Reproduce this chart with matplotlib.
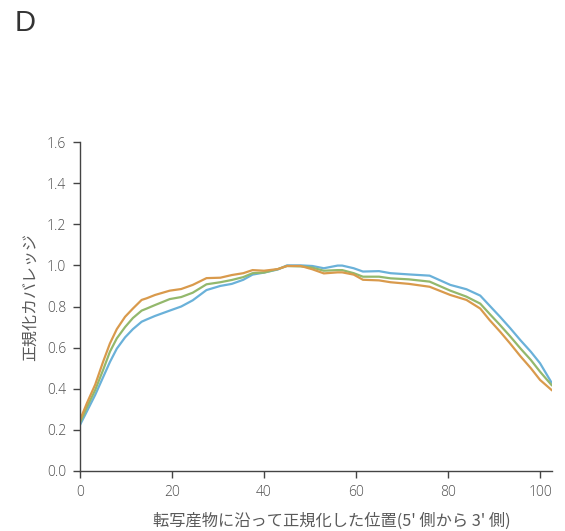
import matplotlib
matplotlib.use("Agg")
import matplotlib.pyplot as plt

plt.rcParams['font.family'] = ['Noto Sans CJK JP', 'DejaVu Sans']

x = [0, 1.5, 3.3, 5, 6.5, 8, 9.8, 11.5, 13.4, 14.5, 16.3, 19.5, 22, 24.5, 27.5,
     30.5, 33, 35.5, 37.5, 40, 43, 45, 48, 50.5, 53, 56, 57, 59.5, 61.5, 65, 67.5,
     71.5, 76, 80.5, 84, 87, 89, 91.3, 93.5, 95.7, 98, 100, 102.5]
blue = [0.224, 0.29, 0.37, 0.455, 0.53, 0.595, 0.65, 0.69, 0.726, 0.737, 0.754, 0.78,
        0.80, 0.83, 0.88, 0.90, 0.91, 0.93, 0.955, 0.965, 0.98, 1.0, 1.0, 0.997,
        0.986, 0.999, 0.999, 0.986, 0.97, 0.972, 0.962, 0.956, 0.95, 0.905, 0.884,
        0.853, 0.805, 0.75, 0.695, 0.637, 0.58, 0.524, 0.43]
green = [0.235, 0.31, 0.394, 0.49, 0.58, 0.645, 0.70, 0.744, 0.78, 0.79, 0.807, 0.836,
         0.846, 0.867, 0.908, 0.918, 0.929, 0.943, 0.962, 0.965, 0.982, 0.997, 0.995,
         0.989, 0.974, 0.977, 0.977, 0.962, 0.945, 0.945, 0.937, 0.932, 0.921, 0.877,
         0.848, 0.814, 0.765, 0.71, 0.655, 0.597, 0.54, 0.483, 0.418]
orange = [0.248, 0.33, 0.42, 0.53, 0.62, 0.69, 0.75, 0.79, 0.832, 0.84, 0.856, 0.877,
          0.885, 0.905, 0.938, 0.94, 0.953, 0.962, 0.977, 0.974, 0.982, 0.997, 0.997,
          0.981, 0.961, 0.966, 0.966, 0.955, 0.93, 0.927, 0.918, 0.91, 0.896, 0.856,
          0.832, 0.79, 0.735, 0.678, 0.62, 0.559, 0.50, 0.443, 0.394]

xticks = [0, 20, 40, 60, 80, 100]
yticks = [0.0, 0.2, 0.4, 0.6, 0.8, 1.0, 1.2, 1.4, 1.6]
xlabel = "転写産物に沿って正規化した位置(5' 側から 3' 側)"
ylabel = "正規化カバレッジ"
panel = "D"

fig = plt.figure(figsize=(5.65, 5.31), dpi=100)
ax = fig.add_axes([80/565, 1-471/531, (552-80)/565, (471-142)/531])

ax.plot(x, blue, color="#6ab1d9", lw=1.6)
ax.plot(x, green, color="#93b86c", lw=1.6)
ax.plot(x, orange, color="#d99a4c", lw=1.6)

ax.set_xlim(0, 102.6)
ax.set_ylim(0, 1.6)
ax.set_xticks(xticks)
ax.set_yticks(yticks)
ax.set_yticklabels([f"{v:.1f}" for v in yticks])

gray = "#4d4d4d"
for s in ["top", "right"]:
    ax.spines[s].set_visible(False)
for s in ["left", "bottom"]:
    ax.spines[s].set_color("#444444")
    ax.spines[s].set_linewidth(1.0)
ax.tick_params(direction="out", length=5, width=1, colors="#444444",
               labelcolor=gray, pad=5)
for lab in ax.get_xticklabels() + ax.get_yticklabels():
    lab.set_family(['Open Sans', 'DejaVu Sans'])
    lab.set_fontweight('light')
    lab.set_fontsize(10)
ax.set_xlabel(xlabel, color="#5a5a5a", fontsize=11.7, labelpad=9,
              family=['Noto Sans CJK JP', 'DejaVu Sans'])
ax.set_ylabel(ylabel, color="#5a5a5a", fontsize=11.5, labelpad=6,
              family=['Noto Sans CJK JP', 'DejaVu Sans'])
ax.xaxis.label.set_x(0.534)
ax.yaxis.label.set_y(0.529)

fig.text(15/565, 1-31/531, panel, fontsize=21, color="#333333", ha="left",
         va="baseline", family=['Liberation Sans', 'DejaVu Sans'])

fig.savefig("out.png", dpi=100)
